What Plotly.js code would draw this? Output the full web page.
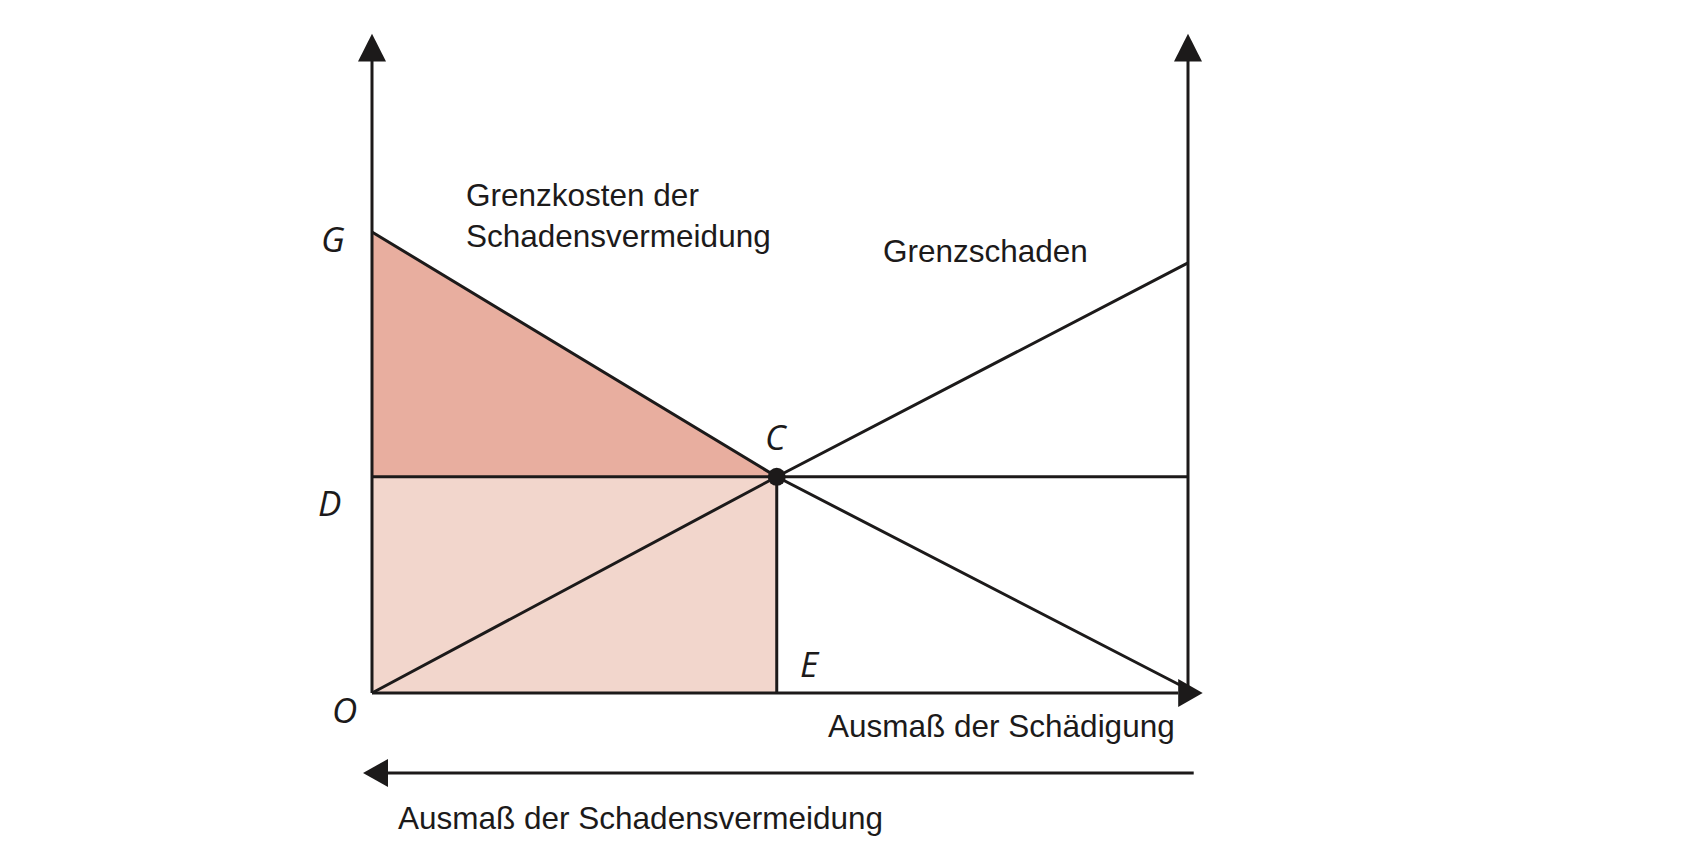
<!DOCTYPE html>
<html>
<head>
<meta charset="utf-8">
<script src="https://cdn.plot.ly/plotly-3.0.1.min.js"></script>
<style>
  html, body { margin: 0; padding: 0; background: #ffffff; }
  #chart { width: 1684px; height: 854px; }
</style>
</head>
<body>
<div id="chart"></div>
<script>
// ---- Data (abstract units: O = origin, right axis at x = 10, G at y = 10) ----
const cX = 4.96;            // Schnittpunkt C / Punkt E (Ausmaß)
const dY = 4.69;            // Höhe D
const gY = 10;              // Höhe G
const rightAxisX = 10;      // rechte Achse
const grenzkostenX = [0, cX, 10.09];
const grenzkostenY = [gY, dY, 0];
const grenzschadenX = [0, cX, rightAxisX];
const grenzschadenY = [0, dY, 9.33];
const axisTopY = 13.72;     // Ende der senkrechten Achsen (Pfeilbasis)
const axisTipY = 14.3;      // Pfeilspitze senkrecht
const xAxisEnd = 9.88;      // Pfeilbasis waagerecht
const xAxisTip = 10.18;     // Pfeilspitze waagerecht
const lowerArrowY = -1.735; // Pfeil "Ausmaß der Schadensvermeidung"
const lowerArrowStart = 10.07;
const lowerArrowBase = 0.196;
const lowerArrowTip = -0.11;

const labelTexts = {
  G: 'G', D: 'D', O: 'O', C: 'C', E: 'E',
  kosten: 'Grenzkosten der<br>Schadensvermeidung',
  schaden: 'Grenzschaden',
  schaedigung: 'Ausmaß der Schädigung',
  vermeidung: 'Ausmaß der Schadensvermeidung'
};

// ---- Pixel mapping of the plot area ----
const W = 1684, H = 854;
const pxPerX = 81.6, pxPerY = 46.1;
const originPx = [372, 693];
const xRange = [-originPx[0] / pxPerX, (W - originPx[0]) / pxPerX];
const yRange = [-(H - originPx[1]) / pxPerY, originPx[1] / pxPerY];

const ink = '#1c1a1a';
const lw = 3;
const darkFill = '#E8AE9F';
const lightFill = '#F2D6CC';

// Arrowhead half widths / lengths in data units
const vHalfW = 14 / pxPerX;
const hHalfH = 14 / pxPerY;

function line(xs, ys) {
  return { type: 'scatter', mode: 'lines', x: xs, y: ys,
           line: { color: ink, width: lw }, hoverinfo: 'skip', showlegend: false };
}
function poly(xs, ys, color) {
  return { type: 'scatter', mode: 'lines', x: xs.concat([xs[0]]), y: ys.concat([ys[0]]),
           fill: 'toself', fillcolor: color, line: { width: 0, color: color },
           hoverinfo: 'skip', showlegend: false };
}

const traces = [
  // light rectangle O-E-C-D
  poly([0, cX, cX, 0], [0, 0, dY, dY], lightFill),
  // dark triangle D-C-G
  poly([0, cX, 0], [dY, dY, gY], darkFill),
  // D horizontal line
  line([0, rightAxisX], [dY, dY]),
  // E vertical line
  line([cX, cX], [0, dY]),
  // Grenzkosten der Schadensvermeidung
  line(grenzkostenX, grenzkostenY),
  // Grenzschaden
  line(grenzschadenX, grenzschadenY),
  // axes
  line([0, 0], [0, axisTopY]),
  line([rightAxisX, rightAxisX], [0, axisTopY]),
  line([0, xAxisEnd], [0, 0]),
  line([lowerArrowStart, lowerArrowBase], [lowerArrowY, lowerArrowY]),
  // point C
  { type: 'scatter', mode: 'markers', x: [cX], y: [dY],
    marker: { color: ink, size: 18 }, hoverinfo: 'skip', showlegend: false }
];

function tri(pts) {
  return { type: 'path', xref: 'x', yref: 'y',
           path: 'M' + pts.map(p => p[0] + ',' + p[1]).join(' L') + ' Z',
           fillcolor: ink, line: { width: 0 } };
}
const shapes = [
  tri([[0 - vHalfW, axisTopY - 0.02], [0 + vHalfW, axisTopY - 0.02], [0, axisTipY]]),
  tri([[rightAxisX - vHalfW, axisTopY - 0.02], [rightAxisX + vHalfW, axisTopY - 0.02], [rightAxisX, axisTipY]]),
  tri([[xAxisEnd, -hHalfH], [xAxisEnd, hHalfH], [xAxisTip, 0]]),
  tri([[lowerArrowBase, lowerArrowY - hHalfH], [lowerArrowBase, lowerArrowY + hHalfH], [lowerArrowTip, lowerArrowY]])
];

const italicFont = { family: '"Open Sans", "Noto Sans", sans-serif', size: 35, color: ink };
const textFont = { family: '"Liberation Sans", Arial, sans-serif', size: 31.5, color: ink };

function ann(text, x, y, font, xanchor, extra) {
  return Object.assign({ text: text, x: x, y: y, xref: 'x', yref: 'y', showarrow: false,
                         font: font, xanchor: xanchor || 'center', yanchor: 'middle' }, extra || {});
}

const annotations = [
  ann('<i>' + labelTexts.G + '</i>', -0.478, 9.85, italicFont),
  ann('<i>' + labelTexts.D + '</i>', -0.515, 4.14, italicFont),
  ann('<i>' + labelTexts.O + '</i>', -0.331, -0.36, italicFont),
  ann('<i>' + labelTexts.C + '</i>', cX, 5.56, italicFont),
  ann('<i>' + labelTexts.E + '</i>', 5.37, 0.64, italicFont),
  ann(labelTexts.kosten, 1.13, 10.36, textFont, 'left', { align: 'left' }),
  ann(labelTexts.schaden, 6.24, 9.59, textFont, 'left'),
  ann(labelTexts.schaedigung, 5.56, -0.72, textFont, 'left'),
  ann(labelTexts.vermeidung, 0.29, -2.71, textFont, 'left')
];

const layout = {
  width: W, height: H,
  margin: { l: 0, r: 0, t: 0, b: 0, pad: 0 },
  paper_bgcolor: '#ffffff', plot_bgcolor: '#ffffff',
  xaxis: { range: xRange, visible: false, fixedrange: true },
  yaxis: { range: yRange, visible: false, fixedrange: true },
  shapes: shapes,
  annotations: annotations,
  showlegend: false
};

Plotly.newPlot('chart', traces, layout, { displayModeBar: false, staticPlot: true });
</script>
</body>
</html>
